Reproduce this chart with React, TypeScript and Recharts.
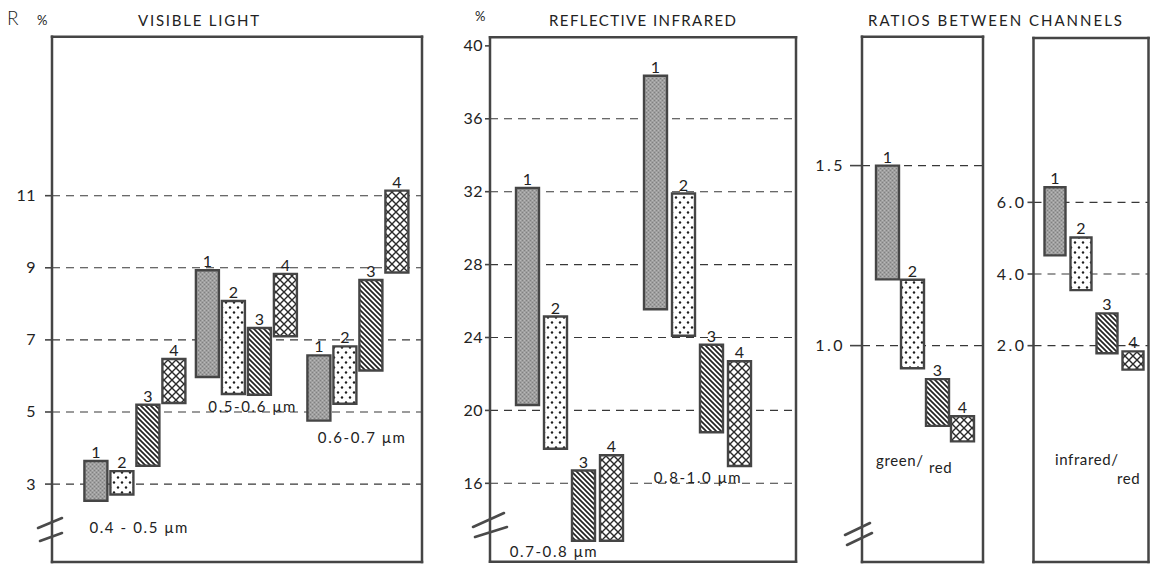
import React from 'react';
import { BarChart, Bar, XAxis, YAxis, CartesianGrid, LabelList, ReferenceDot } from 'recharts';

type Range = [number, number];

// ---------- DATA ----------
// Visible light, reflectance R % (min–max range per surface type 1–4)
const VISIBLE_BANDS = ['0.4 - 0.5 μm', '0.5-0.6 μm', '0.6-0.7 μm'];
const VIS_TYPE1: Range[] = [[2.54, 3.64], [5.97, 8.93], [4.76, 6.57]];
const VIS_TYPE2: Range[] = [[2.71, 3.36], [5.5, 8.08], [5.23, 6.82]];
const VIS_TYPE3: Range[] = [[3.51, 5.2], [5.48, 7.33], [6.15, 8.66]];
const VIS_TYPE4: Range[] = [[5.25, 6.47], [7.1, 8.83], [8.87, 11.14]];
const VIS_TICKS = [3, 5, 7, 9, 11];
const VIS_GRID = [3, 5, 7, 9, 11];
const VIS_NOTE_Y = [1.78, 5.14, 4.28];

// Reflective infrared, %
const IR_BANDS = ['0.7-0.8 μm', '0.8-1.0 μm'];
const IR_TYPE1: Range[] = [[20.3, 32.2], [25.55, 38.36]];
const IR_TYPE2: Range[] = [[17.9, 25.15], [24.1, 31.9]];
const IR_TYPE3: Range[] = [[12.85, 16.7], [18.8, 23.6]];
const IR_TYPE4: Range[] = [[12.85, 17.54], [16.95, 22.7]];
const IR_TICKS = [16, 20, 24, 28, 32, 36, 40];
const IR_GRID = [16, 20, 24, 28, 32, 36];
const IR_NOTE_Y = [12.25, 16.3];

// Ratios between channels (types 1–4)
const GREEN_RED: Range[] = [[1.184, 1.5], [0.937, 1.183], [0.777, 0.907], [0.734, 0.804]];
const GREEN_RED_TICKS = [1.0, 1.5];
const IR_RED: Range[] = [[4.52, 6.42], [3.55, 5.02], [1.79, 2.9], [1.33, 1.84]];
const IR_RED_TICKS = [2, 4, 6];

// ---------- STYLE ----------
const FONT = 'Lato, "DejaVu Sans", sans-serif';
const INK = '#222222';
const LINE = '#454545';
const BAR_EDGE = '#454545';

const SERIES = [
  { key: 't1', name: '1', fill: 'url(#pat-gray)' },
  { key: 't2', name: '2', fill: 'url(#pat-dots)' },
  { key: 't3', name: '3', fill: 'url(#pat-hatch)' },
  { key: 't4', name: '4', fill: 'url(#pat-cross)' },
];

const buildRows = (bands: string[], t1: Range[], t2: Range[], t3: Range[], t4: Range[]) =>
  bands.map((band, i) => ({ band, t1: t1[i], t2: t2[i], t3: t3[i], t4: t4[i] }));

const visibleRows = buildRows(VISIBLE_BANDS, VIS_TYPE1, VIS_TYPE2, VIS_TYPE3, VIS_TYPE4);
const irRows = buildRows(IR_BANDS, IR_TYPE1, IR_TYPE2, IR_TYPE3, IR_TYPE4);
const greenRedRows = [{ band: 'green/red', t1: GREEN_RED[0], t2: GREEN_RED[1], t3: GREEN_RED[2], t4: GREEN_RED[3] }];
const irRedRows = [{ band: 'infrared/red', t1: IR_RED[0], t2: IR_RED[1], t3: IR_RED[2], t4: IR_RED[3] }];

const PatternDefs = () => (
  <svg width={0} height={0} style={{ position: 'absolute' }}>
    <defs>
      <pattern id="pat-gray" width={4} height={4} patternUnits="userSpaceOnUse">
        <rect width={4} height={4} fill="#9f9f9f" />
        <rect x={0} y={0} width={1} height={1} fill="#808080" />
        <rect x={2} y={2} width={1} height={1} fill="#808080" />
        <rect x={2} y={0} width={1} height={1} fill="#b8b8b8" />
        <rect x={0} y={2} width={1} height={1} fill="#b8b8b8" />
      </pattern>
      <pattern id="pat-dots" width={8} height={10} patternUnits="userSpaceOnUse">
        <rect width={8} height={10} fill="#ffffff" />
        <circle cx={2} cy={2.5} r={1.2} fill="#1e1e1e" />
        <circle cx={6} cy={7.5} r={1.2} fill="#1e1e1e" />
      </pattern>
      <pattern id="pat-hatch" width={5} height={5} patternUnits="userSpaceOnUse">
        <rect width={5} height={5} fill="#ffffff" />
        <path d="M-1,-1 L6,6 M-1,4 L1,6 M4,-1 L6,1" stroke="#222" strokeWidth={1.7} />
      </pattern>
      <pattern id="pat-cross" width={8} height={8} patternUnits="userSpaceOnUse">
        <rect width={8} height={8} fill="#ffffff" />
        <path d="M0,0 L8,8 M8,0 L0,8" stroke="#2a2a2a" strokeWidth={1.4} />
      </pattern>
    </defs>
  </svg>
);

const YTick = (props: any) => {
  const { x, y, payload, fmt, spacing } = props;
  return (
    <text x={x} y={y} dy={5.5} textAnchor="end" fontSize={16} fill={INK} fontFamily={FONT} letterSpacing={spacing}>
      {fmt(payload.value)}
    </text>
  );
};

const GroupNote = (props: any) => {
  const vb = props.viewBox || { x: 0, y: 0, width: 0, height: 0 };
  const cx = vb.x + (vb.width || 0) / 2;
  const cy = vb.y + (vb.height || 0) / 2;
  return (
    <text x={cx + props.dx} y={cy} dy={5} textAnchor="middle" fontSize={15} fill={INK} fontFamily={FONT} letterSpacing={1.6}>
      {props.text}
    </text>
  );
};

interface Note { band: string; y: number; dx: number }

interface PanelProps {
  left: number;
  width: number;
  rows: any[];
  domain: [number, number];
  ticks: number[];
  grid: number[];
  yWidth: number;
  top: number;
  right: number;
  bottom: number;
  pad: { left: number; right: number };
  barSize: number;
  barGap: number;
  tickSize: number;
  tickMargin: number;
  fmt: (v: number) => string;
  tickSpacing: number;
  notes?: Note[];
}

const Panel = (p: PanelProps) => {
  const axisLine = { stroke: LINE, strokeWidth: 2.5, strokeLinecap: 'square' as const };
  // frame axes take 1px each (top / bottom / right)
  const margin = { top: p.top - 1, right: p.right - 1, bottom: p.bottom - 1, left: 0 };
  return (
    <div style={{ position: 'absolute', left: p.left, top: 0 }}>
      <BarChart width={p.width} height={564} data={p.rows} margin={margin} barGap={p.barGap}>
        <CartesianGrid
          vertical={false}
          syncWithTicks
          horizontalValues={p.grid}
          stroke="#383838"
          strokeWidth={1.1}
          strokeDasharray="8 6"
        />
        <XAxis dataKey="band" padding={p.pad} height={1} tick={false} tickLine={false} axisLine={axisLine} />
        <XAxis xAxisId="top" dataKey="band" orientation="top" padding={p.pad} height={1} tick={false} tickLine={false} axisLine={axisLine} />
        <YAxis
          type="number"
          domain={p.domain}
          ticks={p.ticks}
          allowDataOverflow
          interval={0}
          width={p.yWidth}
          tickSize={p.tickSize}
          tickMargin={p.tickMargin}
          axisLine={axisLine}
          tickLine={{ stroke: LINE, strokeWidth: 1.6 }}
          tick={(t: any) => <YTick {...t} fmt={p.fmt} spacing={p.tickSpacing} />}
        />
        <YAxis yAxisId="right" orientation="right" type="number" domain={p.domain} allowDataOverflow width={1} tick={false} tickLine={false} axisLine={axisLine} />
        {SERIES.map((s) => (
          <Bar key={s.key} dataKey={s.key} fill={s.fill} stroke={BAR_EDGE} strokeWidth={2.4} barSize={p.barSize} isAnimationActive={false}>
            <LabelList dataKey={s.key} position="top" offset={3} formatter={() => s.name} fill={INK} fontSize={16} fontFamily={FONT} />
          </Bar>
        ))}
        {(p.notes || []).map((n) => (
          <ReferenceDot key={n.band} x={n.band} y={n.y} r={0} fill="none" stroke="none" ifOverflow="visible" label={<GroupNote text={n.band} dx={n.dx} />} />
        ))}
      </BarChart>
    </div>
  );
};

const Overlay = () => {
  const t = { fill: INK, fontFamily: FONT } as const;
  const brk = { stroke: '#4a4a4a', strokeWidth: 2.6, strokeLinecap: 'round' as const };
  return (
    <svg width={1158} height={564} style={{ position: 'absolute', left: 0, top: 0, pointerEvents: 'none' }}>
      <text x={7} y={25} fontSize={19} {...t} fontWeight={300}>R</text>
      <text x={37} y={25} fontSize={13} {...t}>%</text>
      <text x={138} y={26} fontSize={15} {...t} textLength={121} lengthAdjust="spacing">VISIBLE LIGHT</text>
      <text x={475} y={21} fontSize={13} {...t}>%</text>
      <text x={549} y={26} fontSize={15} {...t} textLength={187} lengthAdjust="spacing">REFLECTIVE INFRARED</text>
      <text x={868} y={26} fontSize={15} {...t} textLength={254} lengthAdjust="spacing">RATIOS BETWEEN CHANNELS</text>

      <text x={876} y={466} fontSize={15} {...t} letterSpacing={0.6}>green/</text>
      <text x={929} y={473} fontSize={15} {...t} letterSpacing={0.6}>red</text>
      <text x={1055} y={465} fontSize={15} {...t} letterSpacing={0.6}>infrared/</text>
      <text x={1117} y={484} fontSize={15} {...t} letterSpacing={0.6}>red</text>

      {/* axis breaks */}
      <line x1={38} y1={528} x2={62} y2={518} {...brk} />
      <line x1={40} y1={541} x2={62} y2={533} {...brk} />
      <line x1={473} y1={527} x2={504} y2={513} {...brk} />
      <line x1={475} y1={537} x2={507} y2={527} {...brk} />
      <line x1={845} y1={535} x2={870} y2={523} {...brk} />
      <line x1={847} y1={545} x2={872} y2={533} {...brk} />
    </svg>
  );
};

export default function App() {
  const int = (v: number) => String(v);
  const dec = (v: number) => v.toFixed(1);
  return (
    <div style={{ position: 'absolute', left: 0, top: 0, width: 1158, height: 564, background: '#ffffff', overflow: 'hidden' }}>
      <PatternDefs />
      <Panel
        left={0}
        width={432}
        rows={visibleRows}
        domain={[0.839, 15.41]}
        ticks={VIS_TICKS}
        grid={VIS_GRID}
        yWidth={52}
        top={36.7}
        right={10}
        bottom={2}
        pad={{ left: 27.4, right: 8.1 }}
        barSize={23}
        barGap={3}
        tickSize={7}
        tickMargin={9}
        fmt={int}
        tickSpacing={0.5}
        notes={[
          { band: VISIBLE_BANDS[0], y: VIS_NOTE_Y[0], dx: 4 },
          { band: VISIBLE_BANDS[1], y: VIS_NOTE_Y[1], dx: 6 },
          { band: VISIBLE_BANDS[2], y: VIS_NOTE_Y[2], dx: 4 },
        ]}
      />
      <Panel
        left={430}
        width={376}
        rows={irRows}
        domain={[11.7, 40.47]}
        ticks={IR_TICKS}
        grid={IR_GRID}
        yWidth={60}
        top={37.3}
        right={10}
        bottom={2.3}
        pad={{ left: 15, right: 35 }}
        barSize={23}
        barGap={5}
        tickSize={5}
        tickMargin={2}
        fmt={int}
        tickSpacing={0.5}
        notes={[
          { band: IR_BANDS[0], y: IR_NOTE_Y[0], dx: -15 },
          { band: IR_BANDS[1], y: IR_NOTE_Y[1], dx: 1 },
        ]}
      />
      <Panel
        left={800}
        width={193}
        rows={greenRedRows}
        domain={[0.399, 1.858]}
        ticks={GREEN_RED_TICKS}
        grid={GREEN_RED_TICKS}
        yWidth={62}
        top={36.7}
        right={10}
        bottom={2}
        pad={{ left: 5, right: 0 }}
        barSize={23}
        barGap={2}
        tickSize={12}
        tickMargin={5}
        fmt={dec}
        tickSpacing={2.5}
      />
      <Panel
        left={985}
        width={173}
        rows={irRedRows}
        domain={[-4.038, 10.587]}
        ticks={IR_RED_TICKS}
        grid={IR_RED_TICKS}
        yWidth={48.5}
        top={38}
        right={9.5}
        bottom={2}
        pad={{ left: 6, right: 0 }}
        barSize={21}
        barGap={5}
        tickSize={6}
        tickMargin={1}
        fmt={dec}
        tickSpacing={2.5}
      />
      <Overlay />
    </div>
  );
}
